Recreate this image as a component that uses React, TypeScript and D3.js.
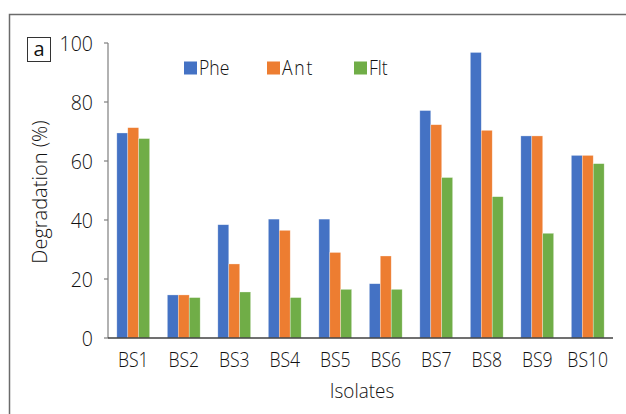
import React from 'react'
import * as d3 from 'd3'

const isolates = ['BS1', 'BS2', 'BS3', 'BS4', 'BS5', 'BS6', 'BS7', 'BS8', 'BS9', 'BS10']
const phe = [69.5, 14.6, 38.4, 40.3, 40.3, 18.4, 77.1, 96.8, 68.5, 61.9]
const ant = [71.3, 14.6, 25.1, 36.5, 29.0, 27.8, 72.3, 70.4, 68.5, 61.9]
const flt = [67.6, 13.7, 15.6, 13.7, 16.5, 16.5, 54.4, 47.9, 35.5, 59.1]
const seriesNames = ['Phe', 'Ant', 'Flt']
const yTicks = [0, 20, 40, 60, 80, 100]

const colors = ['#4472C4', '#ED7D31', '#70AD47']
const font = '"Open Sans", "Noto Sans", sans-serif'
const textColor = '#111'
const weight = 300

export default function App() {
  const width = 626
  const height = 414
  const left = 108
  const right = 613
  const top = 43
  const bottom = 338

  const x = d3.scaleBand().domain(isolates).range([left, right]).paddingInner(0.35).paddingOuter(0.175)
  const inner = d3.scaleBand().domain(seriesNames).range([0, x.bandwidth()])
  const y = d3.scaleLinear().domain([0, 100]).range([bottom, top])
  const values = [phe, ant, flt]

  return (
    <svg width={width} height={height} style={{ position: 'absolute', left: 0, top: 0 }}>
      <rect x={0} y={0} width={width} height={height} fill="#fff" />
      {/* outer frame */}
      <path d={`M9.5,${height}V14.5H${width}`} fill="none" stroke="#6b6b6b" strokeWidth={1.5} />

      {/* panel letter */}
      <rect x={27.5} y={37.5} width={23} height={24} fill="#fff" stroke="#333" strokeWidth={1} />
      <text x={39} y={56} textAnchor="middle" fontFamily={font} fontWeight={400} fontSize={20} fill={textColor}>a</text>

      {/* bars */}
      {isolates.map((c, i) => (
        <g key={c}>
          {seriesNames.map((s, k) => (
            <rect
              key={s}
              x={(x(c) ?? 0) + (inner(s) ?? 0)}
              y={y(values[k][i])}
              width={inner.bandwidth()}
              height={bottom - y(values[k][i])}
              fill={colors[k]}
              stroke="#ffffff"
              strokeOpacity={0.5}
              strokeWidth={0.6}
            />
          ))}
        </g>
      ))}

      {/* y axis */}
      <line x1={left} x2={left} y1={top} y2={bottom} stroke="#7f7f7f" strokeWidth={1.2} />
      {yTicks.map(t => (
        <g key={t}>
          <line x1={left - 4} x2={left} y1={y(t)} y2={y(t)} stroke="#7f7f7f" strokeWidth={1.2} />
          <text
            x={0}
            y={0}
            dy="0.36em"
            textAnchor="end"
            fontFamily={font}
            fontWeight={weight}
            fontSize={21}
            fill={textColor}
            transform={`translate(93,${y(t)}) scale(0.93,1)`}
          >
            {t}
          </text>
        </g>
      ))}

      {/* x axis */}
      <line x1={left} x2={right} y1={bottom} y2={bottom} stroke="#404040" strokeWidth={1.5} />
      {isolates.map(c => {
        const cx = (x(c) ?? 0) + x.bandwidth() / 2
        return (
          <text
            key={c}
            x={0}
            y={0}
            textAnchor="middle"
            fontFamily={font}
            fontWeight={weight}
            fontSize={21}
            fill={textColor}
            transform={`translate(${cx},367) scale(0.84,1)`}
          >
            {c}
          </text>
        )
      })}

      {/* axis titles */}
      <text
        transform={`translate(362,398) scale(0.9,1)`}
        textAnchor="middle"
        fontFamily={font}
        fontWeight={weight}
        fontSize={21}
        fill={textColor}
      >
        Isolates
      </text>
      <text
        transform={`translate(47,192) rotate(-90)`}
        textAnchor="middle"
        fontFamily={font}
        fontWeight={weight}
        fontSize={20}
        fill={textColor}
      >
        Degradation (%)
      </text>

      {/* legend */}
      {seriesNames.map((s, k) => {
        const lx = [184, 267, 354][k]
        return (
          <g key={s}>
            <rect x={lx} y={61.5} width={13} height={13} fill={colors[k]} />
            <text
              transform={`translate(${lx + 15},75) scale(0.88,1)`}
              fontFamily={font}
              fontWeight={weight}
              fontSize={20}
              fill={textColor}
              letterSpacing={s === 'Ant' ? 2 : 0}
            >
              {s}
            </text>
          </g>
        )
      })}
    </svg>
  )
}
